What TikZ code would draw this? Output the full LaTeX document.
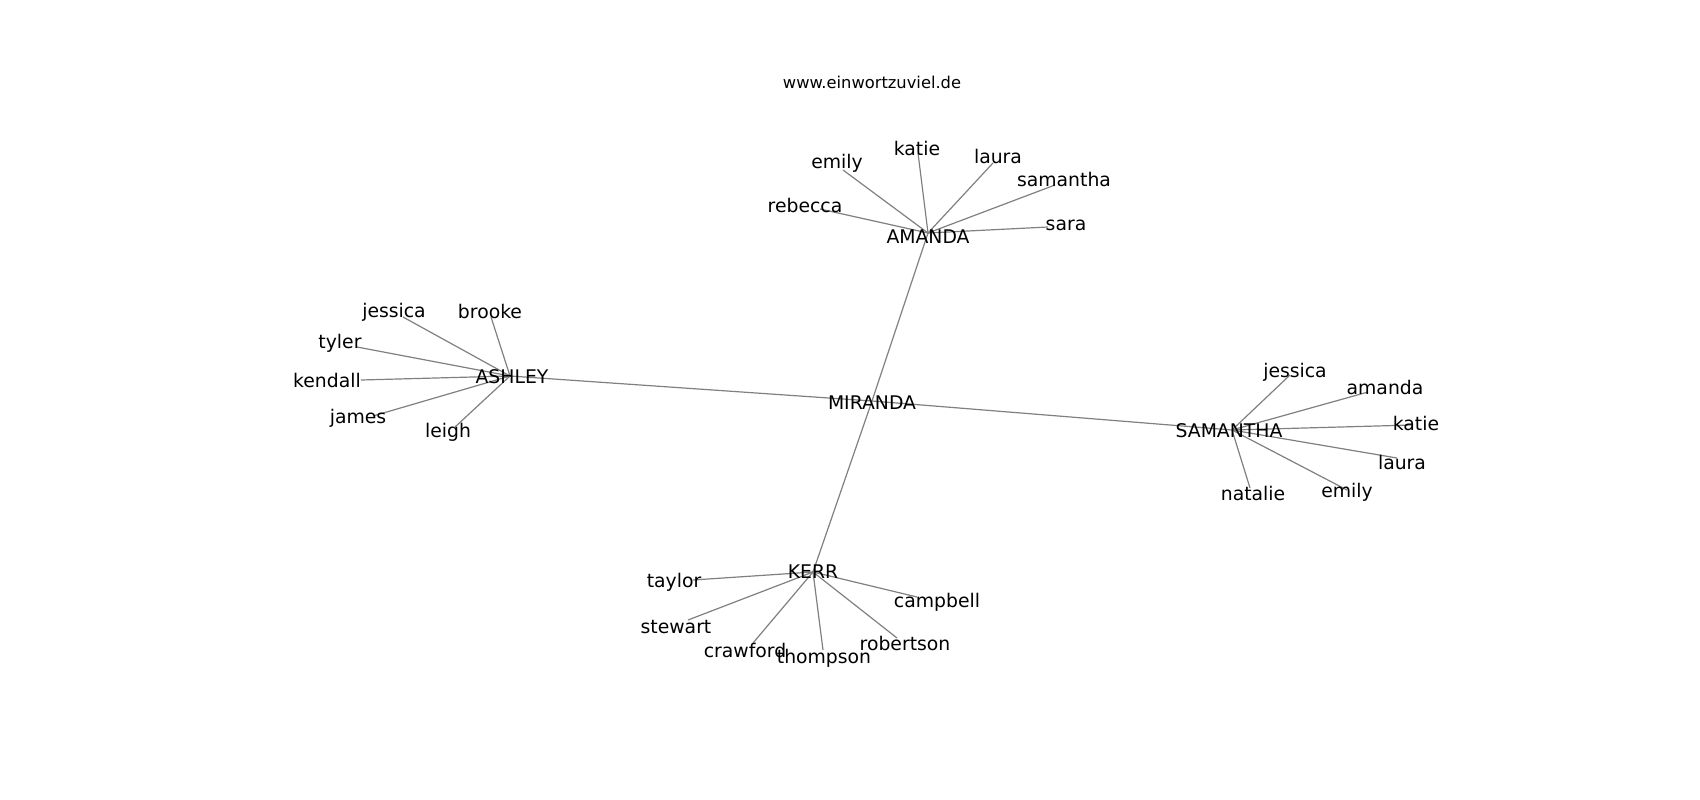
\documentclass[tikz,border=0pt]{standalone}
\usepackage{fontspec}
\setmainfont{DejaVu Sans}
\begin{document}
\begin{tikzpicture}[x=1pt,y=-1pt,
  lbl/.style={inner sep=0pt,text height=0.9em,text depth=0.2em,font=\fontsize{18.8}{22}\selectfont,anchor=center,yshift=-4pt},
  ttl/.style={inner sep=0pt,text height=0.9em,text depth=0.2em,font=\fontsize{16.3}{19}\selectfont,anchor=center,yshift=-3pt},
  edge/.style={draw=black!50,line width=1.2pt}]
\useasboundingbox[fill=white] (0,0) rectangle (1700,800);
% edge end points
\coordinate (cMIR) at (872,401);
\coordinate (cAMA) at (928,233);
\coordinate (cASH) at (510,376);
\coordinate (cSAM) at (1232,430);
\coordinate (cKER) at (813,572);
% amanda leaves
\coordinate (ca1) at (918,153);
\coordinate (ca2) at (843,170);
\coordinate (ca3) at (993,163);
\coordinate (ca4) at (1055,185);
\coordinate (ca5) at (820,209);
\coordinate (ca6) at (1048,227);
% ashley leaves
\coordinate (cb1) at (403,317);
\coordinate (cb2) at (491,317);
\coordinate (cb3) at (357,347);
\coordinate (cb4) at (361,380);
\coordinate (cb5) at (373,416);
\coordinate (cb6) at (455,427);
% samantha leaves
\coordinate (cs1) at (1290,375);
\coordinate (cs2) at (1368,392);
\coordinate (cs3) at (1413,425);
\coordinate (cs4) at (1397,458);
\coordinate (cs5) at (1347,490);
\coordinate (cs6) at (1250,488);
% kerr leaves
\coordinate (ck1) at (693,580);
\coordinate (ck2) at (688,620);
\coordinate (ck3) at (753,643);
\coordinate (ck4) at (823,650);
\coordinate (ck5) at (897,638);
\coordinate (ck6) at (917,597);
% edges
\foreach \a/\b in {cMIR/cAMA,cMIR/cASH,cMIR/cSAM,cMIR/cKER,
  cAMA/ca1,cAMA/ca2,cAMA/ca3,cAMA/ca4,cAMA/ca5,cAMA/ca6,
  cASH/cb1,cASH/cb2,cASH/cb3,cASH/cb4,cASH/cb5,cASH/cb6,
  cSAM/cs1,cSAM/cs2,cSAM/cs3,cSAM/cs4,cSAM/cs5,cSAM/cs6,
  cKER/ck1,cKER/ck2,cKER/ck3,cKER/ck4,cKER/ck5,cKER/ck6}
  \draw[edge] (\a) -- (\b);
% labels
\node[ttl] (title) at (872,82) {www.einwortzuviel.de};
\node[lbl] (MIR) at (872,402) {MIRANDA};
\node[lbl] (AMA) at (928,236) {AMANDA};
\node[lbl] (ASH) at (512,376) {ASHLEY};
\node[lbl] (SAM) at (1229,430) {SAMANTHA};
\node[lbl] (KER) at (813,571) {KERR};
\node[lbl] (a1) at (917,148) {katie};
\node[lbl] (a2) at (837,161) {emily};
\node[lbl] (a3) at (998,156) {laura};
\node[lbl] (a4) at (1064,179) {samantha};
\node[lbl] (a5) at (805,205) {rebecca};
\node[lbl] (a6) at (1066,223) {sara};
\node[lbl] (b1) at (394,310) {jessica};
\node[lbl] (b2) at (490,311) {brooke};
\node[lbl] (b3) at (340,341) {tyler};
\node[lbl] (b4) at (327,380) {kendall};
\node[lbl] (b5) at (358,416) {james};
\node[lbl] (b6) at (448,430) {leigh};
\node[lbl] (s1) at (1295,370) {jessica};
\node[lbl] (s2) at (1385,387) {amanda};
\node[lbl] (s3) at (1416,423) {katie};
\node[lbl] (s4) at (1402,462) {laura};
\node[lbl] (s5) at (1347,490) {emily};
\node[lbl] (s6) at (1253,493) {natalie};
\node[lbl] (k1) at (674,580) {taylor};
\node[lbl] (k2) at (676,626) {stewart};
\node[lbl] (k3) at (745,650) {crawford};
\node[lbl] (k4) at (824,656) {thompson};
\node[lbl] (k5) at (905,643) {robertson};
\node[lbl] (k6) at (937,600) {campbell};
\end{tikzpicture}
\end{document}
